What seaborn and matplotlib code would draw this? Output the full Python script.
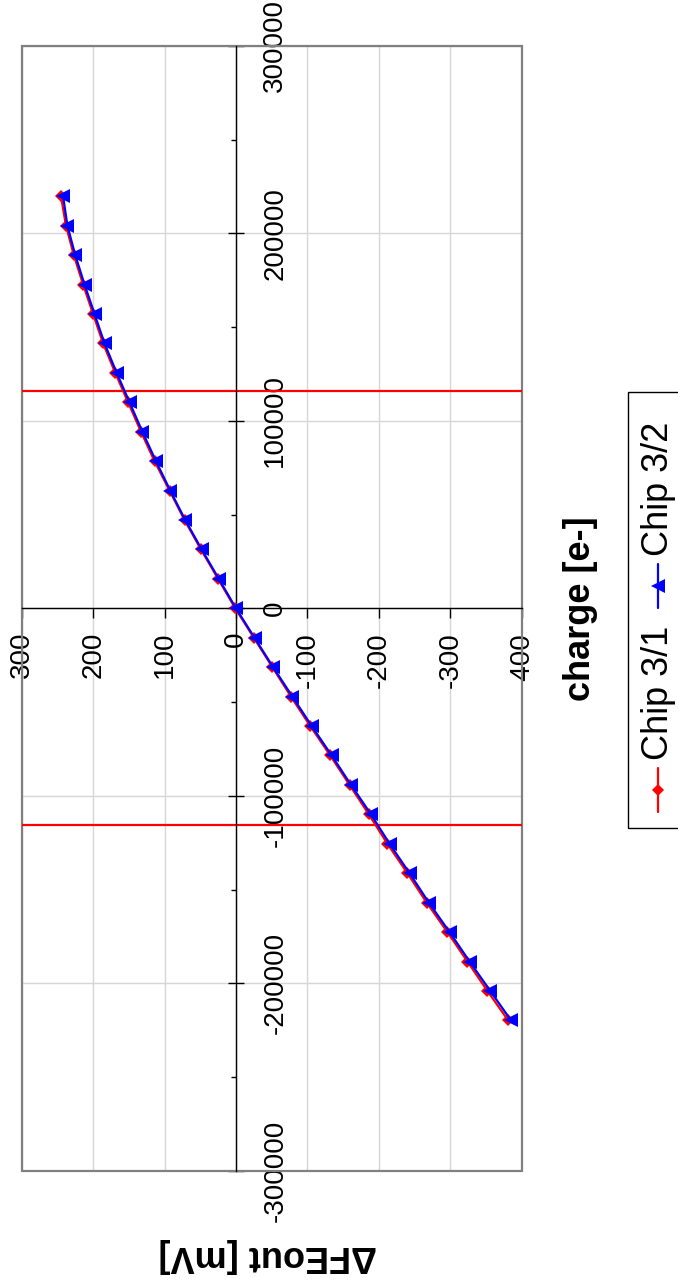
import matplotlib
matplotlib.use("Agg")
import numpy as np
import pandas as pd
import seaborn as sns
import matplotlib.pyplot as plt
from matplotlib.patches import Rectangle
from matplotlib.lines import Line2D

# Injected charge (electrons) and front-end output change (mV) per chip
charge_e = [-219800, -204100, -188400, -172700, -157000, -141300, -125600,
            -109900, -94200, -78500, -62800, -47100, -31400, -15700, 0,
            15700, 31400, 47100, 62800, 78500, 94200, 109900, 125600,
            141300, 157000, 172700, 188400, 204100, 219800]
chip_3_1_mv = [-381, -352, -324, -296, -267, -240, -212, -186, -159, -132,
               -104, -77, -51, -25, 1, 25, 49, 72, 93, 114, 133, 151, 169,
               186, 200, 214, 227, 238, 245]
chip_3_2_mv = [-385, -356, -327, -299, -270, -243, -215, -189, -161, -134,
               -106, -79, -52, -26, 0, 24, 48, 71, 92, 112, 131, 149, 167,
               184, 198, 212, 225, 236, 242]
series_names = ["Chip 3/1", "Chip 3/2"]

# Linear-range limits marked on the charge axis
range_limits_e = [-115800, 115800]

value_ticks = [300, 200, 100, 0, -100, -200, -300, -400]
value_tick_labels = ["300", "200", "100", "0", "-100", "-200", "-300", "-400"]
charge_ticks = [-300000, -200000, -100000, 0, 100000, 200000, 300000]
charge_tick_labels = ["-300000", "-200000", "-100000", "0", "100000",
                      "200000", "300000"]
charge_minor_ticks = [-250000, -150000, -50000, 50000, 150000, 250000]

RED = "#FF0000"
BLUE = "#0000FF"

sns.set_style("white")
plt.rcParams["font.family"] = ["Liberation Sans", "DejaVu Sans"]
plt.rcParams["axes.unicode_minus"] = False
plt.rcParams["text.color"] = "black"
plt.rcParams["axes.labelcolor"] = "black"
plt.rcParams["xtick.color"] = "black"
plt.rcParams["ytick.color"] = "black"

W, H = 678, 1288
fig = plt.figure(figsize=(W / 100, H / 100), dpi=100)


def fx(px):
    return px / W


def fy(py):
    return 1 - py / H


# Page is laid out sideways: value runs horizontally (reversed), charge vertically
ax = fig.add_axes([fx(21.7), fy(1170.7), (521.7 - 21.7) / W, (1170.7 - 46) / H])

df1 = pd.DataFrame({"mV": chip_3_1_mv, "charge": charge_e})
df2 = pd.DataFrame({"mV": chip_3_2_mv, "charge": charge_e})

sns.lineplot(data=df1, x="mV", y="charge", color=RED, marker="D",
             markersize=6.5, markeredgewidth=0, lw=1.6, sort=False,
             estimator=None, legend=False, ax=ax, zorder=4)
sns.lineplot(data=df2, x="mV", y="charge", color=BLUE, marker="<",
             markersize=10, markeredgewidth=0, lw=1.6, sort=False,
             estimator=None, legend=False, ax=ax, zorder=5)

for q in range_limits_e:
    ax.axhline(q, color=RED, lw=1.6, zorder=3)

ax.set_xlim(300, -400)
ax.set_ylim(-300000, 300000)
ax.set_xlabel("")
ax.set_ylabel("")

# Axis lines cross at the origin
ax.spines["left"].set_visible(False)
ax.spines["top"].set_visible(False)
ax.spines["bottom"].set_position(("data", 0))
ax.spines["right"].set_position(("data", 0))
for s in ("bottom", "right"):
    ax.spines[s].set_color("black")
    ax.spines[s].set_linewidth(1.0)
    ax.spines[s].set_zorder(3.5)

ax.yaxis.tick_right()
ax.xaxis.set_ticks_position("bottom")

ax.set_xticks(value_ticks)
ax.set_xticklabels(value_tick_labels, rotation=90)
ax.set_yticks(charge_ticks)
ax.set_yticklabels(charge_tick_labels, rotation=90, va="center")
ax.set_yticks(charge_minor_ticks, minor=True)

ax.tick_params(axis="x", direction="out", length=7, width=1, pad=10,
               labelsize=20, colors="black")
ax.tick_params(axis="y", which="major", direction="inout", length=12,
               width=1, pad=13, labelsize=20, colors="black")
ax.tick_params(axis="y", which="minor", direction="in", length=3.6,
               width=1, colors="black")

ax.grid(True, which="major", color="#d6d6d6", lw=1.0)
ax.set_axisbelow(True)

# Plot-area frame
ax.add_patch(Rectangle((0, 0), 1, 1, transform=ax.transAxes, fill=False,
                       ec="#808080", lw=1.6, zorder=2.6, clip_on=False))

# Axis titles
fig.text(fx(580), fy(609), "charge [e-]", rotation=90, fontsize=26,
         fontweight="bold", ha="center", va="center", color="black")
fig.text(fx(268), fy(1256), "ΔFEout [mV]", rotation=180, fontsize=26,
         fontweight="bold", ha="center", va="center", color="black")

# Legend box along the right edge
fig.add_artist(Rectangle((fx(628), fy(828)), 90 / W, 436 / H,
                         transform=fig.transFigure, fill=False, ec="black",
                         lw=1.0))
legend_items = [
    (series_names[0], RED, "D", 6.5, 812),
    (series_names[1], BLUE, "<", 10, 608),
]
lx = 658
for name, col, mk, ms, y0 in legend_items:
    fig.add_artist(Line2D([fx(lx), fx(lx)], [fy(y0), fy(y0 - 44)],
                          transform=fig.transFigure, color=col, lw=1.6))
    fig.add_artist(Line2D([fx(lx)], [fy(y0 - 22)], transform=fig.transFigure,
                          color=col, marker=mk, markersize=ms,
                          markeredgewidth=0, lw=0))
    fig.text(fx(lx), fy(y0 - 52), name, rotation=90, rotation_mode="anchor",
             ha="left", va="center", fontsize=26, color="black")

fig.savefig("out.png", dpi=100)
